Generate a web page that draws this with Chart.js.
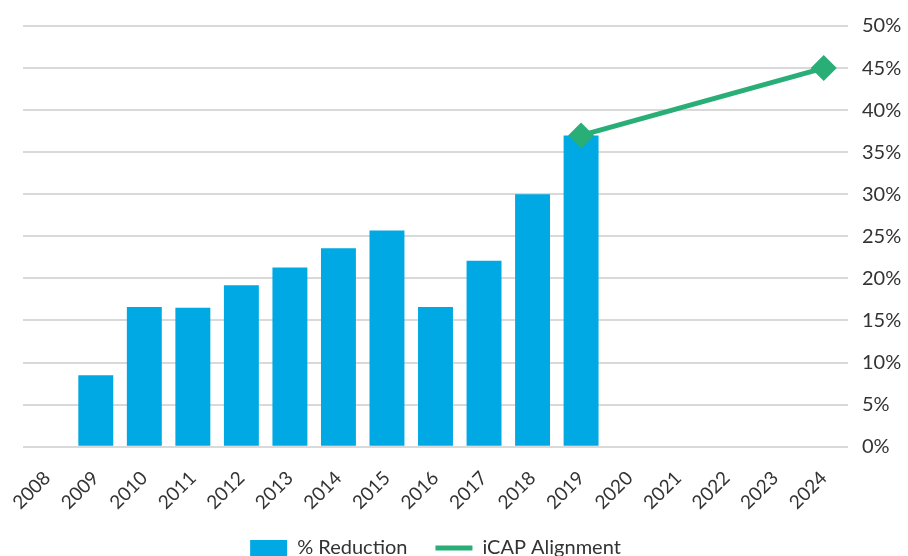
<!DOCTYPE html>
<html>
   <head>
      <title>% Reduction vs iCAP Alignment</title>
      <style>
         html, body {
         margin: 0;
         padding: 0;
         background: #ffffff;
         overflow: hidden;
         }
         #chart-box {
         width: 908px;
         height: 572px;
         }
      </style>
      <script src="https://cdn.jsdelivr.net/npm/chart.js"></script>
   </head>
   <body>
      <div id="chart-box">
         <canvas id="reduction-chart"></canvas>
      </div>
      <script>
         // Data
         const years = ['2008', '2009', '2010', '2011', '2012', '2013', '2014', '2015', '2016',
                        '2017', '2018', '2019', '2020', '2021', '2022', '2023', '2024'];
         const reduction = [null, 8.5, 16.6, 16.5, 19.2, 21.3, 23.6, 25.7, 16.6,
                            22.1, 30.0, 37.0, null, null, null, null, null];
         const icapAlignment = [null, null, null, null, null, null, null, null, null,
                                null, null, 37.0, null, null, null, null, 45.0];
         const yTicks = [0, 5, 10, 15, 20, 25, 30, 35, 40, 45, 50];

         const barColor = '#00A9E3';
         const lineColor = '#29AE77';
         const textColor = '#333333';
         const fontFamily = 'Lato, "Open Sans", sans-serif';

         const ctx = document.getElementById('reduction-chart');

         new Chart(ctx, {
           type: 'bar',
           data: {
             labels: years,
             datasets: [{
               type: 'line',
               label: 'iCAP Alignment',
               data: icapAlignment,
               borderColor: lineColor,
               backgroundColor: lineColor,
               borderWidth: 5,
               spanGaps: true,
               pointStyle: 'rectRot',
               pointRadius: 13,
               pointHoverRadius: 13,
               pointBorderWidth: 0,
               order: 0
             }, {
               label: '% Reduction',
               data: reduction,
               backgroundColor: barColor,
               borderWidth: 0,
               barPercentage: 0.72,
               categoryPercentage: 1.0,
               order: 1
             }]
           },
           options: {
             responsive: true,
             maintainAspectRatio: false,
             animation: false,
             layout: {
               padding: { left: 23, right: 0, top: 14, bottom: 4 }
             },
             scales: {
               x: {
                 grid: { display: false },
                 border: { display: false },
                 // keep the axis box short so the legend stays put
                 afterFit: axis => { axis.height -= 16; },
                 ticks: {
                   color: textColor,
                   font: { family: fontFamily, size: 19 },
                   maxRotation: 45,
                   minRotation: 45,
                   padding: 12
                 }
               },
               y: {
                 position: 'right',
                 min: 0,
                 max: 50,
                 afterBuildTicks: axis => {
                   axis.ticks = yTicks.map(v => ({ value: v }));
                 },
                 afterFit: axis => { axis.width = 60; },
                 grid: {
                   color: '#d9d9d9',
                   lineWidth: 2,
                   drawTicks: false
                 },
                 border: { display: false },
                 ticks: {
                   color: textColor,
                   font: { family: fontFamily, size: 20 },
                   padding: 14,
                   callback: value => value + '%'
                 }
               }
             },
             plugins: {
               legend: {
                 position: 'bottom',
                 fullSize: false,
                 labels: {
                   color: textColor,
                   font: { family: fontFamily, size: 20 },
                   usePointStyle: true,
                   pointStyleWidth: 37,
                   boxHeight: 16,
                   padding: 28,
                   generateLabels: chart => [{
                     text: '% Reduction',
                     fillStyle: barColor,
                     strokeStyle: barColor,
                     lineWidth: 0,
                     pointStyle: 'rect',
                     fontColor: textColor,
                     hidden: false,
                     datasetIndex: 1
                   }, {
                     text: 'iCAP Alignment',
                     fillStyle: lineColor,
                     strokeStyle: lineColor,
                     lineWidth: 5,
                     pointStyle: 'line',
                     fontColor: textColor,
                     hidden: false,
                     datasetIndex: 0
                   }]
                 }
               },
               tooltip: { enabled: false }
             }
           }
         });
      </script>
   </body>
</html>
